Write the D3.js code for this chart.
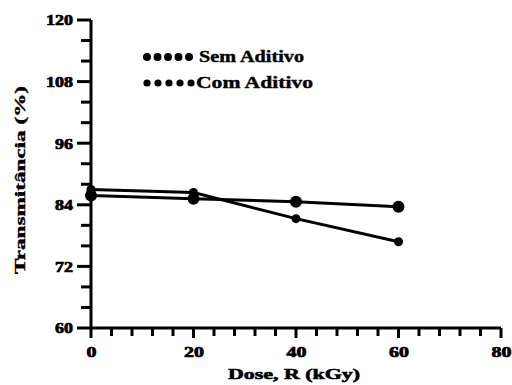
<!DOCTYPE html>
<html>
<head>
<meta charset="utf-8">
<script src="https://cdn.jsdelivr.net/npm/d3@7/dist/d3.min.js"></script>
<style>
  html, body { margin: 0; padding: 0; background: #fff; }
  svg { display: block; }
  text { font-family: "Liberation Serif", "Times New Roman", Times, serif; font-weight: bold; fill: #000; }
</style>
</head>
<body>
<svg id="chart" width="512" height="385" viewBox="0 0 512 385"></svg>
<script>
// Irradiation dose (kGy)
const doses = [0, 20, 40, 60];
// Transmittance (%) for each sample
const semAditivo = [87.0, 86.4, 81.3, 76.8];
const comAditivo = [85.8, 85.2, 84.6, 83.6];
const seriesNames = ["Sem Aditivo", "Com Aditivo"];
// Axis ticks
const xMajorTicks = [0, 20, 40, 60, 80];
const yMajorTicks = [60, 72, 84, 96, 108, 120];
const xLabel = "Dose, R (kGy)";
const yLabel = "Transmitância (%)";

const svg = d3.select("#chart");
const x = d3.scaleLinear().domain([0, 80]).range([91, 501]);
const y = d3.scaleLinear().domain([60, 120]).range([328, 20]);

const xMinor = d3.range(0, 81, 4).filter(v => !xMajorTicks.includes(v));
const yMinor = d3.range(60, 121, 4).filter(v => !yMajorTicks.includes(v));
const x0 = x(0), y0 = y(60);

// Tick marks: d3.line segments through the scales, drawn like the data lines
const seg = d3.line();
const tickSegs = []
  .concat(yMajorTicks.map(v => [[x0 - 14, y(v)], [x0, y(v)]]))
  .concat(yMinor.map(v => [[x0 - 10, y(v)], [x0, y(v)]]))
  .concat(xMajorTicks.map(v => [[x(v), y0], [x(v), y0 + 10]]))
  .concat(xMinor.map(v => [[x(v), y0], [x(v), y0 + 8]]));
svg.append("g").selectAll("path").data(tickSegs).enter().append("path")
  .attr("d", d => seg(d)).attr("fill", "none").attr("stroke", "#000").attr("stroke-width", 3);

// Axis frame
svg.append("path").attr("d", seg([[x0, y(120)], [x0, y0], [x(80), y0]]))
  .attr("fill", "none").attr("stroke", "#000").attr("stroke-width", 3).attr("stroke-linejoin", "round");

// Tick labels from d3 axes (their own lines removed)
const gy = svg.append("g").attr("transform", `translate(${x0},0)`)
  .call(d3.axisLeft(y).tickValues(yMajorTicks).tickSizeInner(14).tickSizeOuter(0).tickPadding(4).tickFormat(d3.format("d")));
gy.select(".domain").remove();
gy.selectAll(".tick line").remove();
gy.selectAll(".tick text").attr("font-size", 15).attr("stroke", "#000").attr("stroke-width", 0.7)
  .attr("textLength", d => String(d).length * 9).attr("lengthAdjust", "spacingAndGlyphs");

const gx = svg.append("g").attr("transform", `translate(0,${y0})`)
  .call(d3.axisBottom(x).tickValues(xMajorTicks).tickSizeInner(10).tickSizeOuter(0).tickPadding(8).tickFormat(d3.format("d")));
gx.select(".domain").remove();
gx.selectAll(".tick line").remove();
gx.selectAll(".tick text").attr("font-size", 15).attr("stroke", "#000").attr("stroke-width", 0.7)
  .attr("textLength", d => String(d).length * 10).attr("lengthAdjust", "spacingAndGlyphs");

// Axis titles
svg.append("text").attr("x", 294).attr("y", 379).attr("text-anchor", "middle")
  .attr("font-size", 15).attr("stroke", "#000").attr("stroke-width", 0.6)
  .attr("textLength", 132).attr("lengthAdjust", "spacingAndGlyphs").text(xLabel);
svg.append("text").attr("transform", "translate(25,180) rotate(-90)").attr("text-anchor", "middle")
  .attr("font-size", 15).attr("stroke", "#000").attr("stroke-width", 0.4)
  .attr("textLength", 188).attr("lengthAdjust", "spacingAndGlyphs").text(yLabel);

// Series
const series = [
  { name: seriesNames[0], values: semAditivo, r: 4.5 },
  { name: seriesNames[1], values: comAditivo, r: 6 }
];
const line = d3.line().x((d, i) => x(doses[i])).y(d => y(d));
series.forEach(s => {
  svg.append("path").attr("d", line(s.values)).attr("fill", "none")
    .attr("stroke", "#000").attr("stroke-width", 3).attr("stroke-linejoin", "round");
  svg.selectAll(null).data(s.values).enter().append("circle")
    .attr("cx", (d, i) => x(doses[i])).attr("cy", d => y(d)).attr("r", s.r).attr("fill", "#000");
});

// Legend
const legend = [
  { name: seriesNames[0], cy: 57, step: 10.5, r: 4, tx: 199, tl: 105 },
  { name: seriesNames[1], cy: 83, step: 11, r: 3.6, tx: 196, tl: 117 }
];
legend.forEach(l => {
  svg.selectAll(null).data(d3.range(5)).enter().append("circle")
    .attr("cx", i => 147 + i * l.step).attr("cy", l.cy).attr("r", l.r).attr("fill", "#000");
  svg.append("text").attr("x", l.tx).attr("y", l.cy + 5).attr("font-size", 16)
    .attr("stroke", "#000").attr("stroke-width", 0.4)
    .attr("textLength", l.tl).attr("lengthAdjust", "spacingAndGlyphs").text(l.name);
});
</script>
</body>
</html>
